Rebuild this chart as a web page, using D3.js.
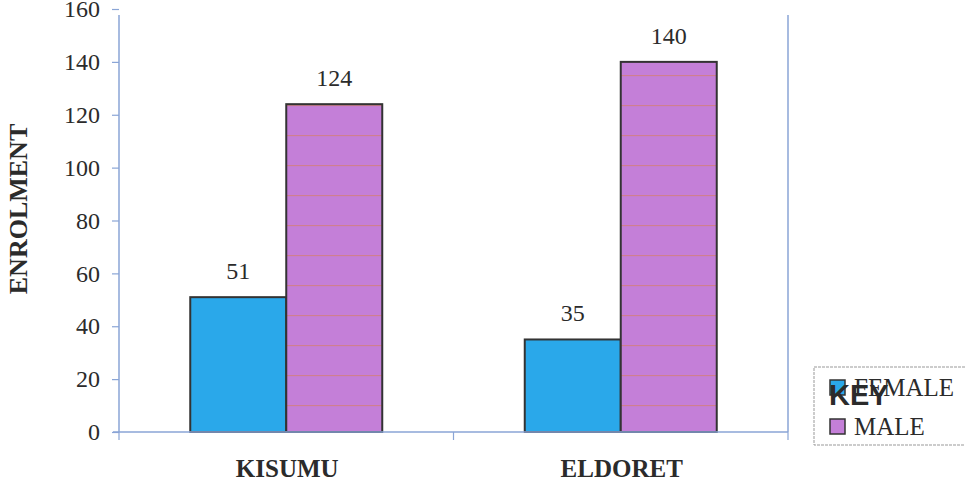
<!DOCTYPE html>
<html>
<head>
<meta charset="utf-8">
<script src="https://cdn.jsdelivr.net/npm/d3@7"></script>
<style>
  body { margin: 0; background: #fff; }
  text { font-family: "Liberation Serif", "Times New Roman", serif; fill: #2b2b2b; }
</style>
</head>
<body>
<svg id="chart" width="965" height="482"></svg>
<script>
// data
const towns = ["KISUMU", "ELDORET"];
const seriesNames = ["FEMALE", "MALE"];
const female = [51, 35];
const male = [124, 140];
const yTicks = [0, 20, 40, 60, 80, 100, 120, 140, 160];

var svg = d3.select("#chart");

const margin = { left: 119, right: 788, top: 9, bottom: 432 };
const colors = { FEMALE: "#2aa8ea", MALE: "#c47fd8" };
const axisColor = "#8aa5d6";

var x0 = d3.scaleBand()
  .domain(towns)
  .range([margin.left, margin.right]);

var x1 = d3.scaleBand()
  .domain(seriesNames)
  .range([0, 192]);

var y = d3.scaleLinear()
  .domain([0, 160])
  .range([margin.bottom, margin.top]);

// faint horizontal stripes seen inside the male bars
var defs = svg.append("defs");
var pat = defs.append("pattern")
  .attr("id", "stripes")
  .attr("patternUnits", "userSpaceOnUse")
  .attr("width", 10)
  .attr("height", 30)
  .attr("y", 15);
pat.append("rect").attr("width", 10).attr("height", 30).attr("fill", colors.MALE);
pat.append("line")
  .attr("x1", 0).attr("x2", 10).attr("y1", 0.5).attr("y2", 0.5)
  .attr("stroke", "#cf7f8f").attr("stroke-width", 1.3);

// rows of data: one per town and series
var rows = [];
towns.forEach(function (t, i) {
  rows.push({ town: t, key: "FEMALE", value: female[i] });
  rows.push({ town: t, key: "MALE", value: male[i] });
});

var offset = (x0.bandwidth() - 192) / 2;

// bars
svg.append("g")
  .selectAll("rect")
  .data(rows)
  .join("rect")
  .attr("x", d => x0(d.town) + offset + x1(d.key))
  .attr("y", d => y(d.value))
  .attr("width", x1.bandwidth())
  .attr("height", d => y(0) - y(d.value))
  .attr("fill", d => d.key === "MALE" ? "url(#stripes)" : colors.FEMALE)
  .attr("stroke", "#333")
  .attr("stroke-width", 2);

// value labels
svg.append("g")
  .selectAll("text")
  .data(rows)
  .join("text")
  .attr("x", d => x0(d.town) + offset + x1(d.key) + x1.bandwidth() / 2)
  .attr("y", d => y(d.value) - 18)
  .attr("text-anchor", "middle")
  .style("font-size", "24px")
  .text(d => d.value);

// y axis
var yAxis = svg.append("g")
  .attr("transform", "translate(" + margin.left + ",0)")
  .call(d3.axisLeft(y).tickValues(yTicks).tickSize(7).tickPadding(12).tickSizeOuter(0));
yAxis.select(".domain").attr("stroke", axisColor).attr("stroke-width", 1.5)
  .attr("d", "M0," + y(0) + "V15");
yAxis.selectAll(".tick line").attr("stroke", axisColor).attr("stroke-width", 1.2);
yAxis.selectAll(".tick text")
  .style("font-family", "Liberation Serif, serif")
  .style("font-size", "24px")
  .attr("fill", "#2b2b2b");

// x axis with ticks between categories
svg.append("line")
  .attr("x1", margin.left - 6).attr("x2", margin.right)
  .attr("y1", y(0)).attr("y2", y(0))
  .attr("stroke", axisColor).attr("stroke-width", 1.5);
svg.append("g")
  .selectAll("line")
  .data([margin.left, x0("ELDORET"), margin.right])
  .join("line")
  .attr("x1", d => d).attr("x2", d => d)
  .attr("y1", y(0)).attr("y2", y(0) + 8)
  .attr("stroke", axisColor).attr("stroke-width", 1.2);

// right border of plot area
svg.append("line")
  .attr("x1", margin.right).attr("x2", margin.right)
  .attr("y1", 15).attr("y2", y(0))
  .attr("stroke", axisColor).attr("stroke-width", 1.5);

// category labels
svg.append("g")
  .selectAll("text")
  .data(towns)
  .join("text")
  .attr("x", d => x0(d) + x0.bandwidth() / 2 + 1)
  .attr("y", 477)
  .attr("text-anchor", "middle")
  .style("font-size", "25px")
  .style("font-weight", "bold")
  .attr("fill", "#3a3a3a")
  .text(d => d);

// y title
svg.append("text")
  .attr("transform", "translate(27,209) rotate(-90)")
  .attr("text-anchor", "middle")
  .style("font-size", "26px")
  .style("font-weight", "bold")
  .text("ENROLMENT");

// legend
var legend = svg.append("g");
legend.append("rect")
  .attr("x", 814).attr("y", 367)
  .attr("width", 160).attr("height", 78)
  .attr("fill", "none")
  .attr("stroke", "#999")
  .attr("stroke-width", 1)
  .attr("stroke-dasharray", "3,1");

var items = legend.selectAll("g")
  .data(seriesNames)
  .join("g")
  .attr("transform", (d, i) => "translate(830," + (380 + i * 39) + ")");
items.append("rect")
  .attr("width", 15).attr("height", 15)
  .attr("fill", d => colors[d])
  .attr("stroke", "#333").attr("stroke-width", 1.5);
items.append("text")
  .attr("x", 24).attr("y", 16)
  .style("font-size", "25px")
  .text(d => d);

legend.append("text")
  .attr("x", 829).attr("y", 405)
  .style("font-family", "Liberation Sans, Arial, sans-serif")
  .style("font-size", "29px")
  .style("font-weight", "bold")
  .attr("fill", "#333")
  .text("KEY");
</script>
</body>
</html>
